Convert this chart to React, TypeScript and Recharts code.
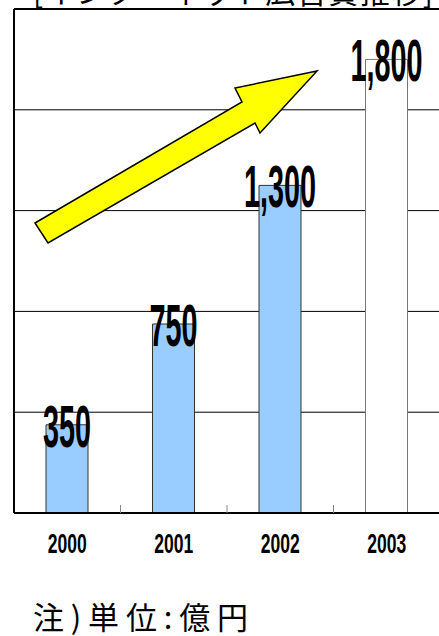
import React from "react";
import {
  BarChart,
  Bar,
  XAxis,
  YAxis,
  CartesianGrid,
  ReferenceLine,
  LabelList,
  Cell,
} from "recharts";

// data
const years = ["2000", "2001", "2002", "2003"];
const spend = [350, 750, 1300, 1800];
const yTicks = [0, 400, 800, 1200, 1600, 2000];
const boundaryTicks = [1, 2, 3];

const title = "[インターネット広告費推移]";
const note = "注)単位:億円";

const data = years.map((y, i) => ({ year: y, value: spend[i], slot: i + 0.5 }));

const BOLD = "'Liberation Sans', Arial, sans-serif";
const JP = "'Noto Sans CJK JP', 'Noto Sans', sans-serif";

const NoTick = () => <g />;

const YearTick = (props: any) => {
  const { x, y, payload } = props;
  return (
    <g transform={`translate(${x},${y + 40})`}>
      <text
        transform="scale(0.65,1)"
        textAnchor="middle"
        fontFamily={BOLD}
        fontWeight="bold"
        fontSize={27}
        fill="#000"
      >
        {payload.value}
      </text>
    </g>
  );
};

const ValueLabel = (props: any) => {
  const { x, y, width, value } = props;
  const cx = x + width / 2;
  return (
    <g transform={`translate(${cx},${y + 22})`}>
      <text
        transform="scale(0.48,1)"
        textAnchor="middle"
        fontFamily={BOLD}
        fontWeight="bold"
        fontSize={60}
        fill="#000"
      >
        {Number(value).toLocaleString("en-US")}
      </text>
    </g>
  );
};

export default function App() {
  // last year is the forecast -> white bar
  const isForecast = (i: number) => i === years.length - 1;

  return (
    <div
      style={{
        position: "absolute",
        left: 0,
        top: 0,
        width: 439,
        height: 636,
        overflow: "hidden",
        background: "#fff",
      }}
    >
      <BarChart
        width={440}
        height={636}
        data={data}
        margin={{ top: 9, right: 0, bottom: 63, left: 4 }}
      >
        <CartesianGrid
          vertical={false}
          stroke="#000"
          strokeWidth={1}
          strokeOpacity={1}
        />
        <YAxis
          type="number"
          domain={[0, 2000]}
          ticks={yTicks}
          width={10}
          tick={<NoTick />}
          tickLine={false}
          axisLine={{ stroke: "#000", strokeWidth: 2 }}
        />
        <XAxis
          dataKey="year"
          height={60}
          tickSize={0}
          tickMargin={0}
          tickLine={false}
          axisLine={{ stroke: "#000", strokeWidth: 2 }}
          tick={<YearTick />}
        />
        <XAxis
          xAxisId="bounds"
          dataKey="slot"
          type="number"
          domain={[0, 4]}
          allowDataOverflow
          ticks={boundaryTicks}
          mirror
          axisLine={false}
          tick={<NoTick />}
          tickSize={8}
          tickLine={{ stroke: "#888", strokeWidth: 1 }}
        />
        <ReferenceLine
          y={2000}
          stroke="#000"
          strokeWidth={2}
          strokeOpacity={1}
          ifOverflow="extendDomain"
        />
        <Bar dataKey="value" barSize={42} isAnimationActive={false}>
          {data.map((entry, index) => (
            <Cell
              key={`cell-${index}`}
              fill={isForecast(index) ? "#fff" : "#99ccff"}
              stroke={isForecast(index) ? "#777" : "#333"}
              strokeWidth={1}
            />
          ))}
          <LabelList dataKey="value" content={<ValueLabel />} />
        </Bar>
      </BarChart>

      {/* arrow + title + note overlay */}
      <svg
        width={439}
        height={636}
        style={{ position: "absolute", left: 0, top: 0, pointerEvents: "none" }}
      >
        <text
          x={33}
          y={3}
          fontFamily={JP}
          fontSize={30}
          textLength={400}
          lengthAdjust="spacing"
          fill="#000"
        >
          {title}
        </text>
        <polygon
          points="35,223 242,102 235,88 317,71 260,133 255,123 48,243"
          fill="#ffff00"
          stroke="#000"
          strokeWidth={1.5}
        />
        <text
          x={33}
          y={629}
          fontFamily={JP}
          fontSize={31}
          textLength={215}
          lengthAdjust="spacing"
          fill="#000"
        >
          {note}
        </text>
      </svg>
    </div>
  );
}
